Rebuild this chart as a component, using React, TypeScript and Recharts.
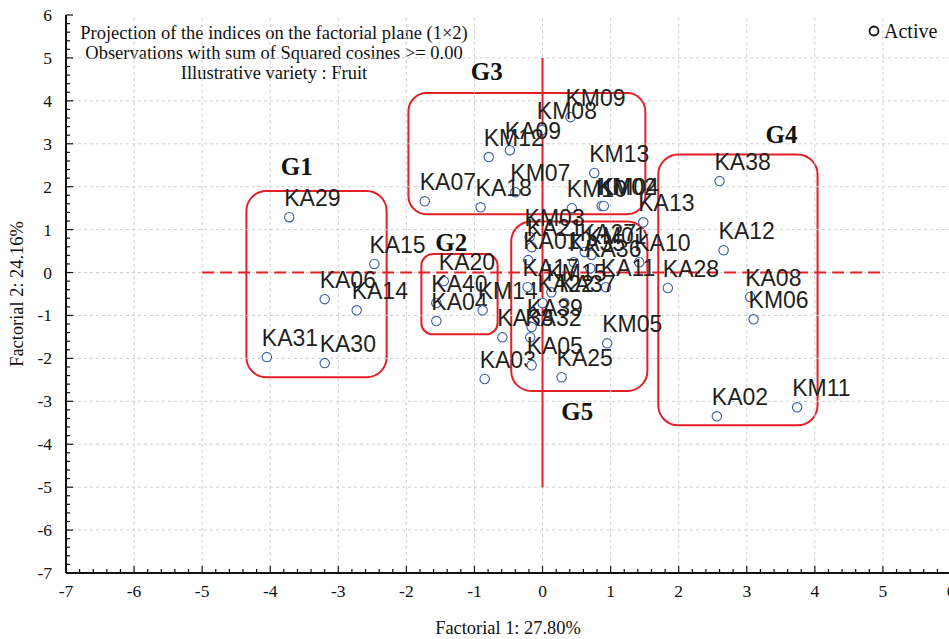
import React from "react"
import { ScatterChart, Scatter, XAxis, YAxis, ReferenceLine, ReferenceArea, ReferenceDot } from "recharts"

// observations
const pointNames = [
  "KA29", "KA15", "KA06", "KA14", "KA31", "KA30",
  "KA20", "KA40", "KA04", "KM14", "KA33", "KA03",
  "KM09", "KM08", "KA09", "KM12", "KM07", "KA18", "KA07", "KM13", "KM10", "KM02", "KM04",
  "KM03", "KA21", "KA01", "KA27", "KM01", "KA35", "KA36", "KA10", "KA11", "KA17", "KM15",
  "KA22", "KA37", "KA39", "KA32", "KA05", "KM05", "KA25",
  "KA13", "KA28", "KA38", "KA12", "KA08", "KM06", "KA02", "KM11",
]
const factorial1 = [
  -3.72, -2.47, -3.2, -2.73, -4.05, -3.2,
  -1.45, -1.56, -1.56, -0.88, -0.59, -0.85,
  0.41, -0.01, -0.48, -0.79, -0.4, -0.91, -1.73, 0.76, 0.43, 0.87, 0.9,
  -0.19, -0.16, -0.21, 0.62, 0.72, 0.46, 0.7, 1.42, 0.93, -0.22, 0.13,
  0.0, 0.32, -0.16, -0.18, -0.16, 0.95, 0.28,
  1.48, 1.84, 2.6, 2.66, 3.05, 3.1, 2.56, 3.74,
]
const factorial2 = [
  1.29, 0.2, -0.62, -0.88, -1.97, -2.11,
  -0.2, -0.71, -1.13, -0.88, -1.51, -2.48,
  3.62, 3.32, 2.85, 2.69, 1.87, 1.52, 1.66, 2.32, 1.5, 1.55, 1.55,
  0.83, 0.59, 0.29, 0.48, 0.41, 0.24, 0.1, 0.24, -0.34, -0.34, -0.46,
  -0.71, -0.71, -1.27, -1.51, -2.16, -1.65, -2.44,
  1.17, -0.36, 2.13, 0.52, -0.57, -1.09, -3.35, -3.14,
]

// clusters drawn around the observations
const groupNames = ["G1", "G2", "G3", "G4", "G5"]
const groupLeft = [-4.35, -1.78, -1.97, 1.7, -0.46]
const groupRight = [-2.29, -0.66, 1.51, 4.04, 1.54]
const groupTop = [1.9, 0.43, 4.18, 2.75, 1.19]
const groupBottom = [-2.44, -1.44, 1.36, -3.56, -2.76]
const groupLabelX = [-3.61, -1.34, -0.82, 3.51, 0.51]
const groupLabelY = [2.46, 0.69, 4.67, 3.2, -3.25]

const majorTicksX = [-7, -6, -5, -4, -3, -2, -1, 0, 1, 2, 3, 4, 5, 6]
const majorTicksY = [-7, -6, -5, -4, -3, -2, -1, 0, 1, 2, 3, 4, 5, 6]
const originSpan = 5

const withMinor = (major: number[]) => {
  const out: number[] = []
  major.forEach((v, i) => {
    out.push(v)
    if (i < major.length - 1) for (let k = 1; k < 5; k++) out.push(+(v + k * 0.2).toFixed(2))
  })
  return out
}
const ticksX = withMinor(majorTicksX)
const ticksY = withMinor(majorTicksY)
const isMajor = (v: number) => Math.abs(v - Math.round(v)) < 1e-6

const data = pointNames.map((name, i) => ({ name, x: factorial1[i], y: factorial2[i] }))

const SERIF = "'Liberation Serif', 'Times New Roman', serif"
const SANS = "'Liberation Sans', Arial, sans-serif"
const RED = "#e41f26"
const BLUE = "#3a5ca8"

const BottomTick = (p: any) => {
  const v = p.payload.value
  const major = isMajor(v)
  return (
    <g>
      <line x1={p.x} x2={p.x} y1={p.y} y2={p.y - (major ? 7 : 4)} stroke="#111" strokeWidth={1.2} />
      {major && (
        <text x={p.x} y={p.y + 24} textAnchor="middle" fontFamily={SERIF} fontSize={17.5} fill="#111">
          {v}
        </text>
      )}
    </g>
  )
}
const TopTick = (p: any) => {
  const major = isMajor(p.payload.value)
  return <line x1={p.x} x2={p.x} y1={p.y} y2={p.y + (major ? 7 : 4)} stroke="#111" strokeWidth={1.2} />
}
const LeftTick = (p: any) => {
  const v = p.payload.value
  const major = isMajor(v)
  return (
    <g>
      <line x1={p.x} x2={p.x + (major ? 7 : 4)} y1={p.y} y2={p.y} stroke="#111" strokeWidth={1.2} />
      {major && (
        <text x={p.x - 14} y={p.y + 6} textAnchor="end" fontFamily={SERIF} fontSize={17.5} fill="#111">
          {v}
        </text>
      )}
    </g>
  )
}
const RightTick = (p: any) => {
  const major = isMajor(p.payload.value)
  return <line x1={p.x} x2={p.x - (major ? 7 : 4)} y1={p.y} y2={p.y} stroke="#111" strokeWidth={1.2} />
}

const PointShape = (p: any) => (
  <g>
    <circle cx={p.cx} cy={p.cy} r={4.7} fill="#fff" stroke={BLUE} strokeWidth={1.1} />
    <text x={p.cx - 5} y={p.cy - 11} fontFamily={SANS} fontSize={23} fill="#231f20">
      {p.payload.name}
    </text>
  </g>
)

export default function App() {
  return (
    <div style={{ position: "absolute", left: 0, top: 0, width: 949, height: 639, overflow: "hidden", background: "#fff" }}>
      <ScatterChart width={970} height={639} margin={{ top: 15, right: 19, left: 0, bottom: 0 }}>
        <XAxis
          xAxisId={0}
          type="number"
          dataKey="x"
          domain={[-7, 6]}
          ticks={ticksX}
          interval={0}
          height={66}
          tickSize={0}
          tickMargin={0}
          tick={BottomTick}
          tickLine={false}
          axisLine={{ stroke: "#111", strokeWidth: 2 }}
          allowDataOverflow
        />
        <XAxis
          xAxisId="top"
          orientation="top"
          type="number"
          domain={[-7, 6]}
          ticks={ticksX}
          interval={0}
          height={0}
          tickSize={0}
          tickMargin={0}
          tick={TopTick}
          tickLine={false}
          axisLine={{ stroke: "#111", strokeWidth: 2 }}
          allowDataOverflow
        />
        <YAxis
          yAxisId={0}
          type="number"
          dataKey="y"
          domain={[-7, 6]}
          ticks={ticksY}
          interval={0}
          width={66}
          tickSize={0}
          tickMargin={0}
          tick={LeftTick}
          tickLine={false}
          axisLine={{ stroke: "#111", strokeWidth: 2 }}
          allowDataOverflow
        />
        <YAxis
          yAxisId="right"
          orientation="right"
          type="number"
          domain={[-7, 6]}
          ticks={ticksY}
          interval={0}
          width={0}
          tickSize={0}
          tickMargin={0}
          tick={RightTick}
          tickLine={false}
          axisLine={{ stroke: "#111", strokeWidth: 2 }}
          allowDataOverflow
        />

        {majorTicksX.slice(1, -1).map((v) => (
          <ReferenceLine key={"gx" + v} x={v} stroke="#cfcfcf" strokeDasharray="3 3" />
        ))}
        {majorTicksY.slice(1, -1).map((v) => (
          <ReferenceLine key={"gy" + v} y={v} stroke="#cfcfcf" strokeDasharray="3 3" />
        ))}

        <ReferenceLine
          segment={[{ x: -originSpan, y: 0 }, { x: originSpan, y: 0 }]}
          stroke={RED}
          strokeWidth={2}
          strokeDasharray="12 6"
        />
        <ReferenceLine
          segment={[{ x: 0, y: originSpan }, { x: 0, y: -originSpan }]}
          stroke={RED}
          strokeWidth={2}
        />

        {groupNames.map((g, i) => (
          <ReferenceArea
            key={g}
            x1={groupLeft[i]}
            x2={groupRight[i]}
            y1={groupBottom[i]}
            y2={groupTop[i]}
            shape={(p: any) => {
              const r = Math.min(20, p.width * 0.15, p.height * 0.15)
              return (
                <rect x={p.x} y={p.y} width={p.width} height={p.height} rx={r} ry={r} fill="none" stroke={RED} strokeWidth={2} />
              )
            }}
          />
        ))}
        {groupNames.map((g, i) => (
          <ReferenceDot
            key={"l" + g}
            x={groupLabelX[i]}
            y={groupLabelY[i]}
            r={0}
            shape={(p: any) => (
              <text x={p.cx} y={p.cy + 8} textAnchor="middle" fontFamily={SERIF} fontWeight="bold" fontSize={25} fill="#111">
                {g}
              </text>
            )}
          />
        ))}

        <Scatter data={data} isAnimationActive={false} shape={PointShape} />

        <g fontFamily={SERIF} fontSize={18.5} fill="#111" textAnchor="middle">
          <text x={274} y={39}>Projection of the indices on the factorial plane (1×2)</text>
          <text x={274} y={59}>Observations with sum of Squared cosines &gt;= 0.00</text>
          <text x={274} y={79}>Illustrative variety : Fruit</text>
        </g>
        <g>
          <circle cx={874} cy={31} r={4.5} fill="#fff" stroke="#111" strokeWidth={1.8} />
          <text x={884} y={38} fontFamily={SERIF} fontSize={20} fill="#111">Active</text>
        </g>
        <text x={508} y={634} textAnchor="middle" fontFamily={SERIF} fontSize={18.4} fill="#111">
          Factorial 1: 27.80%
        </text>
        <text x={23} y={294} transform="rotate(-90 23 294)" textAnchor="middle" fontFamily={SERIF} fontSize={18.4} fill="#111">
          Factorial 2: 24.16%
        </text>
      </ScatterChart>
    </div>
  )
}
